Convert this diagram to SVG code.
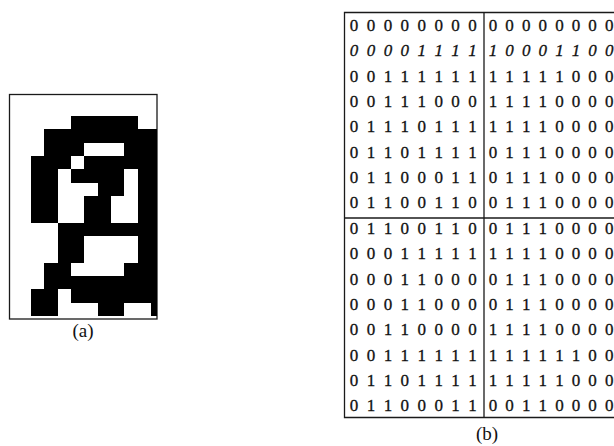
<svg xmlns="http://www.w3.org/2000/svg" width="614" height="446" viewBox="0 0 614 446">
  <style>
    .frame { fill: none; stroke: #1a1a1a; stroke-width: 1.3; }
    .rule { stroke: #1a1a1a; stroke-width: 1.3; }
    .bits { font-family: "Liberation Serif", "DejaVu Serif", serif; font-size: 17px; fill: #111; stroke: #111; stroke-width: 0.3; text-anchor: middle; }
    .it { font-style: italic; }
    .cap { font-family: "Liberation Serif", "DejaVu Serif", serif; font-size: 19px; fill: #111; text-anchor: middle; }
    .px { fill: #000; }
  </style>
  <defs>
    <clipPath id="boxClip">
      <rect x="9.5" y="95" width="147.5" height="224"/>
    </clipPath>
  </defs>

  <!-- (a) bitmap: one unit = one pixel of the 16x16 glyph -->
  <g id="bitmap">
    <rect class="frame" x="9.5" y="94.5" width="147.5" height="224.5"/>
    <g clip-path="url(#boxClip)">
      <g transform="translate(17.67 102.67) scale(13.333)" class="px" shape-rendering="crispEdges">
        <rect x="4" y="1" width="5" height="1"/><rect x="12" y="1" width="2" height="1"/>
        <rect x="2" y="2" width="11" height="1"/>
        <rect x="2" y="3" width="3" height="1"/><rect x="8" y="3" width="4" height="1"/>
        <rect x="1" y="4" width="3" height="1"/><rect x="5" y="4" width="7" height="1"/>
        <rect x="1" y="5" width="2" height="1"/><rect x="4" y="5" width="4" height="1"/><rect x="9" y="5" width="3" height="1"/>
        <rect x="1" y="6" width="2" height="1"/><rect x="6" y="6" width="2" height="1"/><rect x="9" y="6" width="3" height="1"/>
        <rect x="1" y="7" width="2" height="2"/><rect x="5" y="7" width="2" height="2"/><rect x="9" y="7" width="3" height="2"/>
        <rect x="3" y="9" width="9" height="1"/>
        <rect x="3" y="10" width="2" height="2"/><rect x="9" y="10" width="3" height="2"/>
        <rect x="2" y="12" width="2" height="1"/><rect x="8" y="12" width="4" height="1"/>
        <rect x="2" y="13" width="12" height="1"/>
        <rect x="1" y="14" width="2" height="1"/><rect x="4" y="14" width="9" height="1"/>
        <rect x="1" y="15" width="2" height="1"/><rect x="6" y="15" width="2" height="1"/><rect x="10" y="15" width="2" height="1"/>
      </g>
    </g>
    <text class="cap" x="83" y="337">(a)</text>
  </g>

  <!-- (b) binary matrix split into four 8x8 quadrants -->
  <g id="matrix">
    <g id="matrix-rules">
      <path class="frame" d="M620 12.5 H344.5 V417.5 H620"/>
      <line class="rule" x1="484" y1="12.5" x2="484" y2="417.5"/>
      <line class="rule" x1="344.5" y1="218" x2="620" y2="218"/>
    </g>
    <g id="matrix-left" class="bits">
      <text y="30.8" x="354 370.9 387.9 404.8 421.7 438.7 455.6 472.5">00000000</text>
      <text y="56.2" class="it" x="354 370.9 387.9 404.8 421.7 438.7 455.6 472.5">00001111</text>
      <text y="81.6" x="354 370.9 387.9 404.8 421.7 438.7 455.6 472.5">00111111</text>
      <text y="106.9" x="354 370.9 387.9 404.8 421.7 438.7 455.6 472.5">00111000</text>
      <text y="132.3" x="354 370.9 387.9 404.8 421.7 438.7 455.6 472.5">01110111</text>
      <text y="157.7" x="354 370.9 387.9 404.8 421.7 438.7 455.6 472.5">01101111</text>
      <text y="183.1" x="354 370.9 387.9 404.8 421.7 438.7 455.6 472.5">01100011</text>
      <text y="208.4" x="354 370.9 387.9 404.8 421.7 438.7 455.6 472.5">01100110</text>
      <text y="233.8" x="354 370.9 387.9 404.8 421.7 438.7 455.6 472.5">01100110</text>
      <text y="259.2" x="354 370.9 387.9 404.8 421.7 438.7 455.6 472.5">00011111</text>
      <text y="284.6" x="354 370.9 387.9 404.8 421.7 438.7 455.6 472.5">00011000</text>
      <text y="309.9" x="354 370.9 387.9 404.8 421.7 438.7 455.6 472.5">00011000</text>
      <text y="335.3" x="354 370.9 387.9 404.8 421.7 438.7 455.6 472.5">00110000</text>
      <text y="360.7" x="354 370.9 387.9 404.8 421.7 438.7 455.6 472.5">00111111</text>
      <text y="386.1" x="354 370.9 387.9 404.8 421.7 438.7 455.6 472.5">01101111</text>
      <text y="411.4" x="354 370.9 387.9 404.8 421.7 438.7 455.6 472.5">01100011</text>
    </g>
    <g id="matrix-right" class="bits">
      <text y="30.8" x="493 509.6 526.2 542.8 559.4 576 592.6 609.2">00000000</text>
      <text y="56.2" class="it" x="493 509.6 526.2 542.8 559.4 576 592.6 609.2">10001100</text>
      <text y="81.6" x="493 509.6 526.2 542.8 559.4 576 592.6 609.2">11111000</text>
      <text y="106.9" x="493 509.6 526.2 542.8 559.4 576 592.6 609.2">11110000</text>
      <text y="132.3" x="493 509.6 526.2 542.8 559.4 576 592.6 609.2">11110000</text>
      <text y="157.7" x="493 509.6 526.2 542.8 559.4 576 592.6 609.2">01110000</text>
      <text y="183.1" x="493 509.6 526.2 542.8 559.4 576 592.6 609.2">01110000</text>
      <text y="208.4" x="493 509.6 526.2 542.8 559.4 576 592.6 609.2">01110000</text>
      <text y="233.8" x="493 509.6 526.2 542.8 559.4 576 592.6 609.2">01110000</text>
      <text y="259.2" x="493 509.6 526.2 542.8 559.4 576 592.6 609.2">11110000</text>
      <text y="284.6" x="493 509.6 526.2 542.8 559.4 576 592.6 609.2">01110000</text>
      <text y="309.9" x="493 509.6 526.2 542.8 559.4 576 592.6 609.2">01110000</text>
      <text y="335.3" x="493 509.6 526.2 542.8 559.4 576 592.6 609.2">11110000</text>
      <text y="360.7" x="493 509.6 526.2 542.8 559.4 576 592.6 609.2">11111100</text>
      <text y="386.1" x="493 509.6 526.2 542.8 559.4 576 592.6 609.2">11111000</text>
      <text y="411.4" x="493 509.6 526.2 542.8 559.4 576 592.6 609.2">00110000</text>
    </g>
    <text class="cap" x="487" y="440">(b)</text>
  </g>
</svg>
